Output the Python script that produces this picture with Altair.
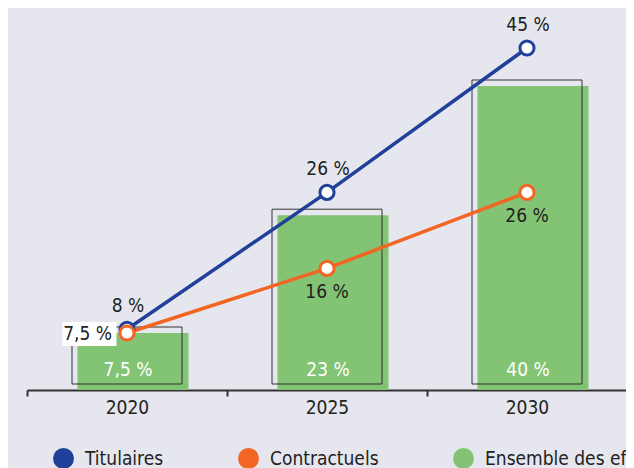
import altair as alt
import pandas as pd

FONT = "DejaVu Sans Condensed, DejaVu Sans, sans-serif"
FS = 19

years = ["2020", "2025", "2030"]
titulaires = [8, 26, 45]
contractuels = [7.5, 16, 26]
ensemble = [7.5, 23, 40]
tit_labels = ["8 %", "26 %", "45 %"]
con_labels = ["7,5 %", "16 %", "26 %"]
ens_labels = ["7,5 %", "23 %", "40 %"]
series = ["Titulaires", "Contractuels", "Ensemble des effectifs"]
colors = ["#21409a", "#f26522", "#82c473"]

bars_df = pd.DataFrame({"year": years, "value": ensemble, "label": ens_labels,
                        "zero": [0, 0, 0]})
lines_df = pd.DataFrame({
    "year": years * 2,
    "series": ["Titulaires"] * 3 + ["Contractuels"] * 3,
    "value": titulaires + contractuels,
    "label": tit_labels + con_labels,
})
legend_df = pd.DataFrame({"series": series, "year": years, "value": [0, 0, 0]})

X = alt.X(
    "year:N",
    scale=alt.Scale(domain=years, paddingInner=0, paddingOuter=0),
    axis=alt.Axis(
        title=None, labelAngle=0, ticks=True, tickBand="extent", tickSize=6,
        tickColor="#333333", tickWidth=2, domainColor="#333333",
        domainWidth=2, labelFontSize=FS, labelFont=FONT, labelColor="#222222",
        labelPadding=2,
    ),
)
Y = alt.Y("value:Q", scale=alt.Scale(domain=[0, 50], nice=False), axis=None)
STROKE = alt.Stroke(
    "series:N",
    scale=alt.Scale(domain=["Titulaires", "Contractuels"], range=colors[:2]),
    legend=None,
)

green = alt.Chart(bars_df).mark_bar(color=colors[2], size=111, xOffset=6).encode(x=X, y=Y)
outline = alt.Chart(bars_df).mark_bar(
    fillOpacity=0, stroke="#333333", strokeWidth=1, size=110, yOffset=-6
).encode(x=X, y=Y)

legend_layer = alt.Chart(legend_df).mark_circle(size=0, opacity=1).encode(
    x=X, y=Y,
    color=alt.Color(
        "series:N",
        scale=alt.Scale(domain=series, range=colors),
        legend=alt.Legend(
            title=None, orient="none", legendX=26, legendY=438,
            direction="horizontal", symbolType="circle", symbolSize=441,
            symbolStrokeWidth=0, symbolOpacity=1, labelFontSize=FS, labelFont=FONT,
            labelColor="#222222", labelOffset=11, columnPadding=74, padding=0,
            labelLimit=400,
        ),
    ),
)

lines = alt.Chart(lines_df).mark_line(strokeWidth=3.5).encode(x=X, y=Y, stroke=STROKE)

box = alt.Chart(lines_df).transform_filter(
    "datum.series == 'Contractuels' && datum.year == '2020'"
).mark_point(
    shape="M-1,-0.444H1V0.444H-1Z", size=2916, fill="white", filled=True,
    strokeWidth=0, opacity=1, xOffset=-37.5, yOffset=1,
).encode(x=X, y=Y)

points = alt.Chart(lines_df).mark_point(
    shape="circle", size=200, fill="white", strokeWidth=3, opacity=1
).encode(x=X, y=Y, stroke=STROKE)

txt = dict(fontSize=FS, font=FONT, color="#222222", baseline="alphabetic")
tit_text = alt.Chart(lines_df).transform_filter("datum.series == 'Titulaires'").mark_text(
    dy=-17, dx=1, **txt
).encode(x=X, y=Y, text="label:N")
con_text_first = alt.Chart(lines_df).transform_filter(
    "datum.series == 'Contractuels' && datum.year == '2020'"
).mark_text(dy=7, dx=-15, align="right", **txt).encode(x=X, y=Y, text="label:N")
con_text_rest = alt.Chart(lines_df).transform_filter(
    "datum.series == 'Contractuels' && datum.year != '2020'"
).mark_text(dy=30, **txt).encode(x=X, y=Y, text="label:N")
ens_text = alt.Chart(bars_df).mark_text(
    fontSize=FS, font=FONT, color="white", baseline="alphabetic", dy=-14, dx=1
).encode(x=X, y=alt.Y("zero:Q"), text="label:N")

chart = alt.layer(
    green, outline, legend_layer, lines, box, points,
    tit_text, con_text_first, con_text_rest, ens_text,
).properties(
    width=600, height=380, background="#e6e7ee",
    padding={"left": 18, "top": 2, "right": -53, "bottom": 0},
).configure_view(stroke=None)

chart.save("out.html", embed_options={"renderer": "svg", "actions": False})
